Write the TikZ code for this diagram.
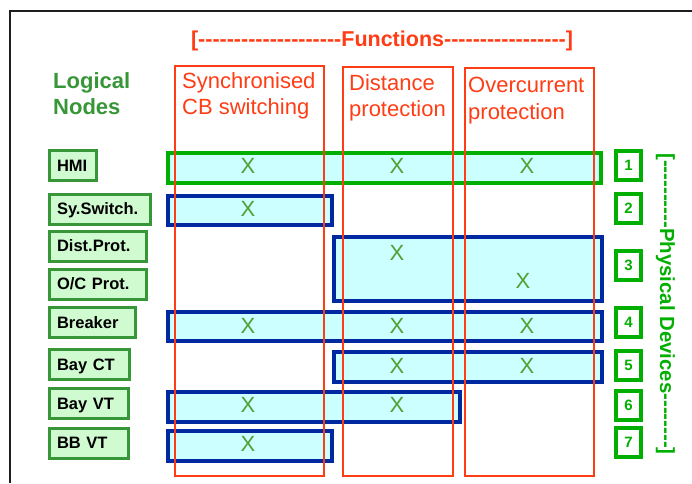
\documentclass[tikz,border=0pt]{standalone}
\usepackage{fontspec}
\setmainfont{Liberation Sans}
\usepackage{tikz}
\usetikzlibrary{positioning}
\definecolor{funcred}{RGB}{255,60,20}
\definecolor{lngreen}{RGB}{55,150,55}
\definecolor{lnfill}{RGB}{208,250,208}
\definecolor{bandcyan}{RGB}{204,255,255}
\definecolor{bandblue}{RGB}{0,40,160}
\definecolor{devgreen}{RGB}{0,175,0}
\definecolor{markgreen}{RGB}{80,160,50}
\definecolor{framegray}{RGB}{30,30,30}
\newcommand{\dashrun}[1]{\foreach \i in {1,...,#1}{-}}

\begin{document}
\begin{tikzpicture}[
  x=1pt, y=-1pt,
  lnode/.style={
    rectangle, draw=lngreen, fill=lnfill, line width=3pt, anchor=west,
    align=left, inner xsep=8pt, inner ysep=0pt, minimum height=30pt,
    text height=11.8pt, text depth=0pt,
    font=\fontsize{16.5}{19}\selectfont\bfseries
  },
  band/.style={
    rectangle, draw=bandblue, fill=bandcyan, line width=3.5pt,
    anchor=north west, inner sep=0pt
  },
  func/.style={
    rectangle, draw=funcred, line width=2pt, anchor=north west, inner sep=0pt
  },
  ftitle/.style={
    anchor=north west, inner sep=0pt, align=left, text=funcred,
    font=\fontsize{22}{26.5}\selectfont
  },
  xmark/.style={inner sep=0pt, text=markgreen, font=\fontsize{22}{26}\selectfont},
  devnum/.style={
    rectangle, draw=devgreen, fill=white, line width=4pt, minimum width=25pt,
    minimum height=29pt, inner sep=0pt, text=devgreen,
    font=\fontsize{15}{18}\selectfont\bfseries
  }
]
  \useasboundingbox (0,0) rectangle (692,483);

  % Frame
  \draw[framegray, line width=2pt] (10,483) -- (10,11) -- (692,11);

  % Headings
  \node[anchor=base, inner sep=0pt, text=funcred, font=\fontsize{21.5}{26}\selectfont\bfseries]
    (functitle) at (382,46) {[\dashrun{20}Functions\dashrun{17}]};
  \node[anchor=north west, inner sep=0pt, align=left, text=lngreen,
    font=\fontsize{22}{26.5}\selectfont\bfseries] (lntitle) at (53,72) {Logical\\Nodes};
  \node[anchor=base, rotate=-90, inner sep=0pt, text=devgreen,
    font=\fontsize{20.4}{24}\selectfont\bfseries]
    (devtitle) at (660,304) {[\dashrun{10}Physical Devices\dashrun{8}]};

  % Logical nodes
  \node[lnode, text width=31pt] (lnHMI)  at (47.5,165.5) {HMI};
  \node[lnode, text width=85pt] (lnSync) at (47.5,209)   {Sy.Switch.};
  \node[lnode, text width=81pt] (lnDist) at (47.5,246)   {Dist.Prot.};
  \node[lnode, text width=81pt] (lnOC)   at (47.5,284)   {O/C Prot.};
  \node[lnode, text width=70pt] (lnBrk)  at (47.5,322.5) {Breaker};
  \node[lnode, text width=64pt] (lnBCT)  at (47.5,364.5) {Bay CT};
  \node[lnode, text width=63pt] (lnBVT)  at (47.5,403.5) {Bay VT};
  \node[lnode, text width=63pt] (lnBBVT) at (47.5,443)   {BB VT};

  % Physical device bands
  \node[band, draw=devgreen, minimum width=433pt, minimum height=30pt] (b1) at (166,151) {};
  \node[band, minimum width=164pt, minimum height=29pt] (b2) at (166,194) {};
  \node[band, minimum width=268pt, minimum height=64pt] (b3) at (332,235) {};
  \node[band, minimum width=434pt, minimum height=29pt] (b4) at (166,310) {};
  \node[band, minimum width=268pt, minimum height=30pt] (b5) at (332,350) {};
  \node[band, minimum width=292pt, minimum height=30pt] (b6) at (166,390) {};
  \node[band, minimum width=164pt, minimum height=30pt] (b7) at (166,429) {};

  % Function columns
  \node[func, minimum width=149pt, minimum height=410pt] (fsync) at (174,65) {};
  \node[func, minimum width=110pt, minimum height=409pt] (fdist) at (342,66) {};
  \node[func, minimum width=129pt, minimum height=408pt] (focp)  at (464,67) {};
  \node[ftitle] (tsync) at (182,72) {Synchronised\\CB switching};
  \node[ftitle] (tdist) at (349,74) {Distance\\protection};
  \node[ftitle] (tocp)  at (468,77) {Overcurrent\\protection};

  % Device numbers
  \node[devnum] (d1) at (628.5,165.5) {1};
  \node[devnum] (d2) at (628.5,208)   {2};
  \node[devnum] (d3) at (628.5,265)   {3};
  \node[devnum] (d4) at (628.5,322.5) {4};
  \node[devnum] (d5) at (628.5,365.5) {5};
  \node[devnum] (d6) at (628.5,405.5) {6};
  \node[devnum] (d7) at (628.5,442.5) {7};

  % Allocation marks
  \node[xmark] (x1a) at (248,166) {X};
  \node[xmark] (x1b) at (397,166) {X};
  \node[xmark] (x1c) at (527,166) {X};
  \node[xmark] (x2a) at (248,209) {X};
  \node[xmark] (x3b) at (397,253) {X};
  \node[xmark] (x3c) at (523,281) {X};
  \node[xmark] (x4a) at (248,326) {X};
  \node[xmark] (x4b) at (397,326) {X};
  \node[xmark] (x4c) at (527,326) {X};
  \node[xmark] (x5b) at (397,366) {X};
  \node[xmark] (x5c) at (527,366) {X};
  \node[xmark] (x6a) at (248,405) {X};
  \node[xmark] (x6b) at (397,405) {X};
  \node[xmark] (x7a) at (248,444) {X};
\end{tikzpicture}
\end{document}
